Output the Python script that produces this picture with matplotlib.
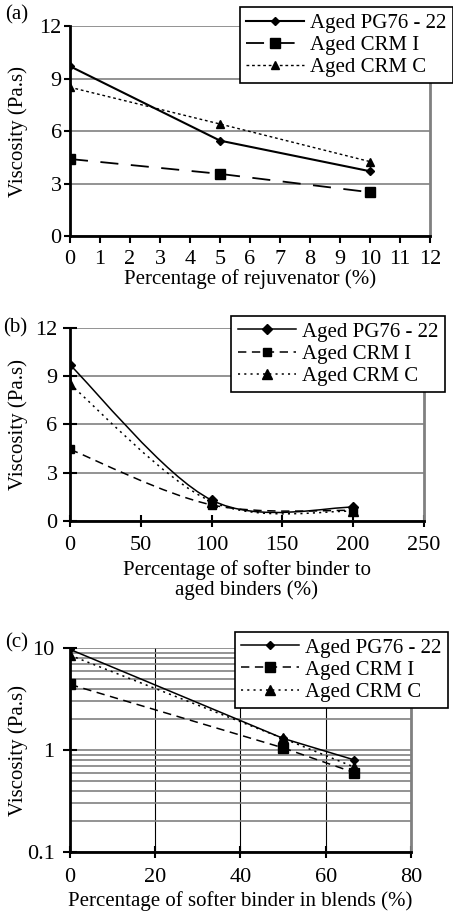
import numpy as np
import matplotlib
matplotlib.use('Agg')
import matplotlib.pyplot as plt
from matplotlib.path import Path
from matplotlib.patches import PathPatch
from matplotlib.lines import Line2D

plt.rcParams['font.family'] = ['Liberation Serif', 'DejaVu Serif']
plt.rcParams['font.size'] = 14
plt.rcParams['lines.scale_dashes'] = False

series_names = ['Aged PG76 - 22', 'Aged CRM I', 'Aged CRM C']

# (a) rejuvenator
rejuv_x = [0, 5, 10]
rejuv_pg76 = [9.7, 5.45, 3.7]
rejuv_crm_i = [4.4, 3.55, 2.5]
rejuv_crm_c = [8.5, 6.4, 4.25]

# (b) softer binder to aged binders
soft_x = [0, 100, 200]
soft_pg76 = [9.7, 1.3, 0.85]
soft_crm_i = [4.45, 1.0, 0.65]
soft_crm_c = [8.5, 1.2, 0.6]

# (c) softer binder in blends
blend_x = [0, 50, 66.7]
blend_pg76 = [9.7, 1.3, 0.8]
blend_crm_i = [4.4, 1.05, 0.6]
blend_crm_c = [8.5, 1.3, 0.68]

GRID = '#808080'


def smooth_path(x, y):
    # cubic bezier through points, like a spreadsheet "smoothed line"
    p = np.column_stack([x, y]).astype(float)
    verts = [p[0]]
    codes = [Path.MOVETO]
    n = len(p)
    for i in range(n - 1):
        p0 = p[i - 1] if i > 0 else p[i]
        p1 = p[i]
        p2 = p[i + 1]
        p3 = p[i + 2] if i + 2 < n else p[i + 1]
        verts += [p1 + (p2 - p0) / 6, p2 - (p3 - p1) / 6, p2]
        codes += [Path.CURVE4] * 3
    return Path(verts, codes)


def style_axes(ax):
    ax.spines['left'].set_linewidth(2)
    ax.spines['bottom'].set_linewidth(2)
    ax.spines['right'].set_color(GRID)
    ax.spines['right'].set_linewidth(2)
    ax.spines['top'].set_visible(False)
    ax.tick_params(axis='both', which='major', width=1.5, labelsize=16)
    ax.tick_params(axis='y', right=False)
    ax.set_axisbelow(True)


def set_ylabel(ax):
    ax.set_ylabel('Viscosity (Pa.s)', fontsize=15)
    # keep all three y labels at the same distance from the figure edge
    width_px = ax.get_position().width * fig.bbox.width
    ax.yaxis.set_label_coords(-42 / width_px, 0.5)


def add_legend(ax, anchor, handles=None):
    kw = dict(loc='upper right', bbox_to_anchor=anchor, bbox_transform=fig.transFigure,
              fancybox=False, edgecolor='black', framealpha=1, fontsize=15,
              handlelength=2.8, labelspacing=0.12, borderpad=0.3, handletextpad=0.3,
              borderaxespad=0)
    if handles is None:
        leg = ax.legend(**kw)
    else:
        leg = ax.legend(handles, series_names, **kw)
    leg.get_frame().set_linewidth(1.2)


fig = plt.figure(figsize=(4.53, 9.13), dpi=100)

# ---------- (a)
ax = fig.add_axes([0.1545, 0.7415, 0.795, 0.230])
ax.plot(rejuv_x, rejuv_pg76, color='black', lw=1.5, marker='D', ms=4, label=series_names[0])
ax.plot(rejuv_x, rejuv_crm_i, color='black', lw=1.3, marker='s', ms=7, dashes=(13, 9),
        label=series_names[1])
ax.plot(rejuv_x, rejuv_crm_c, color='black', lw=1.0, marker='^', ms=6, dashes=(2, 2),
        label=series_names[2])
ax.set_xlim(0, 12)
ax.set_ylim(0, 12)
ax.set_xticks(range(0, 13))
ax.set_yticks([0, 3, 6, 9, 12])
ax.yaxis.grid(True, color=GRID, lw=1.2)
style_axes(ax)
ax.tick_params(axis='x', direction='out', length=5, pad=5)
ax.tick_params(axis='y', direction='out', length=4, pad=2)
ax.set_xlabel('Percentage of rejuvenator (%)', fontsize=15, labelpad=0)
set_ylabel(ax)
add_legend(ax, (1.0, 0.9923))
fig.text(0.012, 0.9835, '(a)', fontsize=15, va='center')

# ---------- (b)
ax = fig.add_axes([0.1545, 0.4294, 0.781, 0.2114])
styles_b = [dict(ls='-', marker='D', ms=5), dict(dashes=(6, 4), marker='s', ms=6),
            dict(dashes=(1.5, 3), marker='^', ms=7)]
handles = []
for yv, st, name in zip([soft_pg76, soft_crm_i, soft_crm_c], styles_b, series_names):
    patch = PathPatch(smooth_path(soft_x, yv), facecolor='none', edgecolor='black', lw=1.1)
    if 'dashes' in st:
        patch.set_linestyle((0, st['dashes']))
    ax.add_patch(patch)
    ax.plot(soft_x, yv, ls='none', color='black', marker=st['marker'], ms=st['ms'])
    handles.append(Line2D([], [], color='black', lw=1.1, marker=st['marker'], ms=st['ms'],
                          **({'dashes': st['dashes']} if 'dashes' in st else {'ls': '-'})))
ax.set_xlim(0, 250)
ax.set_ylim(0, 12)
ax.set_xticks([0, 50, 100, 150, 200, 250])
ax.set_yticks([0, 3, 6, 9, 12])
ax.yaxis.grid(True, color=GRID, lw=1.2)
style_axes(ax)
ax.tick_params(axis='x', direction='inout', length=9, pad=6)
ax.tick_params(axis='y', direction='inout', length=10, pad=4)
ax.set_xlabel('Percentage of softer binder to\naged binders (%)', fontsize=15, labelpad=4,
              linespacing=1.05)
set_ylabel(ax)
add_legend(ax, (0.982, 0.654), handles)
fig.text(0.008, 0.6407, '(b)', fontsize=15, va='center')

# ---------- (c)
ax = fig.add_axes([0.1545, 0.0668, 0.7528, 0.2234])
ax.plot(blend_x, blend_pg76, color='black', lw=1.1, marker='D', ms=4, label=series_names[0])
ax.plot(blend_x, blend_crm_i, color='black', lw=1.1, marker='s', ms=7, dashes=(6, 4),
        label=series_names[1])
ax.plot(blend_x, blend_crm_c, color='black', lw=1.1, marker='^', ms=7, dashes=(1.5, 3),
        label=series_names[2])
ax.set_yscale('log')
ax.set_xlim(0, 80)
ax.set_ylim(0.1, 10)
ax.set_xticks([0, 20, 40, 60, 80])
ax.set_yticks([0.1, 1, 10])
ax.set_yticklabels(['0.1', '1', '10'])
ax.yaxis.set_minor_locator(matplotlib.ticker.LogLocator(base=10, subs=np.arange(2, 10)))
ax.yaxis.set_minor_formatter(matplotlib.ticker.NullFormatter())
ax.tick_params(axis='y', which='minor', length=0)
ax.yaxis.grid(True, which='both', color=GRID, lw=1.2)
ax.xaxis.grid(True, color='black', lw=0.8)
style_axes(ax)
ax.tick_params(axis='x', direction='inout', length=9, pad=7)
ax.tick_params(axis='y', direction='inout', length=10, pad=6)
ax.set_xlabel('Percentage of softer binder in blends (%)', fontsize=15, labelpad=3)
set_ylabel(ax)
add_legend(ax, (0.989, 0.308))
fig.text(0.012, 0.2955, '(c)', fontsize=15, va='center')

fig.savefig('out.png', dpi=100)
